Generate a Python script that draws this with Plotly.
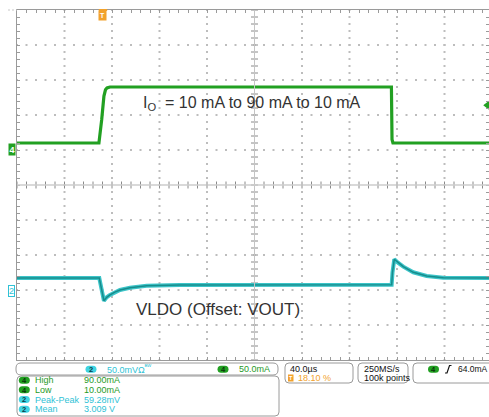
import plotly.graph_objects as go

W, H = 489, 417

# ---- acquisition settings ----
time_per_div = 40.0          # µs/div
trig_pct = 18.10             # trigger position, % of record
ch4_scale = 50.0             # mA/div
ch2_scale = 50.0             # mV/div
trig_level = 64.0            # mA

# ---- channel 4: load current (µs, mA) ----
t4 = [-72.4, -3.4, -1.1, 0.8, 2.1, 3.4, 5.9, 242.9, 243.4, 244.2, 325.1]
i4 = [10.0, 10.0, 43.0, 77.0, 86.0, 88.6, 90.0, 90.0, 15.0, 10.0, 10.0]

# ---- channel 2: LDO output, offset by VOUT (µs, mV) ----
t2 = [-72.4, -3.1, 0.8, 3.1, 5.9, 10.0, 14.3, 22.7, 36.8, 64.8, 243.1,
      243.8, 245.3, 248.4, 252.9, 261.3, 272.6, 286.6, 325.1]
v2 = [17.0, 17.0, -15.38, -10.4, -7.1, -3.0, 0.0, 3.3, 6.1, 7.0, 7.5,
      25.0, 43.9, 39.0, 33.3, 25.3, 20.0, 17.6, 17.0]

mean_v2 = "3.009 V"

GREEN = "#22a022"
GREEN_TXT = "#1f9a1f"
CYAN = "#3cc4c8"
CYAN_DARK = "#178c8c"
CYAN_TXT = "#2fc2d6"
ORANGE = "#f2a22c"
GRID = "#bdbdbd"
FRAME = "#9a9a9a"
FONT = "Liberation Sans, Arial, sans-serif"

# graticule geometry (plot area in pixels)
PL, PT, PB = 17, 10, 360
x_left = -time_per_div * 10 * trig_pct / 100.0
px_per_div = 47.5
x_right = x_left + (W - PL) / px_per_div * time_per_div
y4_top = 200.0
y4_bot = y4_top - 10 * ch4_scale
y2_top = 400.0
y2_bot = y2_top - 10 * ch2_scale
x_center = x_left + 5 * time_per_div
y4_center = (y4_top + y4_bot) / 2


def px(x):
    return x / W


def py(y):
    return 1 - y / H


fig = go.Figure()

# dotted division lines
gx, gy = [], []
minor_x = time_per_div / 5
minor_y = ch4_scale / 5
for k in range(1, 10):
    if k == 5:
        continue
    xv = x_left + k * time_per_div
    for j in range(0, 51):
        gx.append(xv)
        gy.append(y4_bot + j * minor_y)
    yv = y4_bot + k * ch4_scale
    for j in range(0, 51):
        gx.append(x_left + j * minor_x)
        gy.append(yv)
fig.add_trace(go.Scatter(x=gx, y=gy, mode="markers", hoverinfo="skip",
                         marker=dict(symbol="square", size=2, color=GRID,
                                     line=dict(width=0))))

# center cross with minor ticks
fig.add_shape(type="line", xref="x", yref="paper", x0=x_center, x1=x_center,
              y0=py(PB), y1=py(PT), line=dict(color="#c4c4c4", width=1))
fig.add_shape(type="line", xref="paper", yref="y", x0=px(PL), x1=1,
              y0=y4_center, y1=y4_center, line=dict(color="#cccccc", width=1.5))
fig.add_trace(go.Scatter(x=[x_center] * 51,
                         y=[y4_bot + j * minor_y for j in range(51)],
                         mode="markers", hoverinfo="skip",
                         marker=dict(symbol="line-ew", size=5,
                                     line=dict(color="#8a8a8a", width=1))))
fig.add_trace(go.Scatter(x=[x_left + j * minor_x for j in range(51)],
                         y=[y4_center] * 51,
                         mode="markers", hoverinfo="skip",
                         marker=dict(symbol="line-ns", size=5,
                                     line=dict(color="#8a8a8a", width=1))))

# channel 4 trace
fig.add_trace(go.Scatter(x=t4, y=i4, mode="lines", hoverinfo="skip",
                         line=dict(color=GREEN, width=3.2)))
# channel 2 trace (persistence band + core)
fig.add_trace(go.Scatter(x=t2, y=v2, mode="lines", yaxis="y2", hoverinfo="skip",
                         line=dict(color=CYAN, width=4)))
fig.add_trace(go.Scatter(x=t2, y=v2, mode="lines", yaxis="y2", hoverinfo="skip",
                         line=dict(color=CYAN_DARK, width=1.5)))

# trigger level marker at right edge
fig.add_trace(go.Scatter(x=[x_right - 1.5], y=[trig_level], mode="markers",
                         cliponaxis=False, hoverinfo="skip",
                         marker=dict(symbol="triangle-left", size=8, color=GREEN)))

ann = []

# trigger position marker
ann.append(dict(xref="x", yref="paper", x=0, y=py(16), text="<b>T</b>",
                showarrow=False, font=dict(family=FONT, size=7, color="white"),
                bgcolor=ORANGE, borderpad=1, xanchor="center", yanchor="middle"))
fig.add_shape(type="line", xref="x", yref="paper", x0=-3.5, x1=3.5,
              y0=py(PT), y1=py(PT), line=dict(color=ORANGE, width=2))

# channel ground markers
ann.append(dict(xref="paper", yref="y", x=px(11.5), y=0, text="<b>4</b>",
                showarrow=False, font=dict(family=FONT, size=9, color="white"),
                bgcolor=GREEN, borderpad=0.5, xanchor="center", yanchor="middle"))
ann.append(dict(xref="paper", yref="y2", x=px(11.5), y=-2, text="2",
                showarrow=False, font=dict(family=FONT, size=9, color=CYAN_TXT),
                bgcolor="white", bordercolor=CYAN_TXT, borderwidth=1, borderpad=0,
                xanchor="center", yanchor="middle"))

# waveform labels
ann.append(dict(xref="paper", yref="paper", x=px(141), y=py(103),
                text="I<sub>O</sub>  = 10 mA to 90 mA to 10 mA",
                showarrow=False, font=dict(family=FONT, size=16, color="#333333"),
                xanchor="left", yanchor="middle"))
ann.append(dict(xref="paper", yref="paper", x=px(134), y=py(309),
                text="VLDO (Offset: VOUT)",
                showarrow=False, font=dict(family=FONT, size=17, color="#333333"),
                xanchor="left", yanchor="middle"))


def rrect(x0, y0, x1, y1, r, color=FRAME, fill=None):
    p = (f"M {px(x0 + r)},{py(y0)} L {px(x1 - r)},{py(y0)} "
         f"Q {px(x1)},{py(y0)} {px(x1)},{py(y0 + r)} "
         f"L {px(x1)},{py(y1 - r)} Q {px(x1)},{py(y1)} {px(x1 - r)},{py(y1)} "
         f"L {px(x0 + r)},{py(y1)} Q {px(x0)},{py(y1)} {px(x0)},{py(y1 - r)} "
         f"L {px(x0)},{py(y0 + r)} Q {px(x0)},{py(y0)} {px(x0 + r)},{py(y0)} Z")
    fig.add_shape(type="path", xref="paper", yref="paper", path=p,
                  line=dict(color=color, width=1 if fill is None else 0),
                  fillcolor=fill if fill else "rgba(0,0,0,0)", layer="above")


def text(x, y, s, color="#111111", size=9, anchor="left"):
    ann.append(dict(xref="paper", yref="paper", x=px(x), y=py(y), text=s,
                    showarrow=False, font=dict(family=FONT, size=size, color=color),
                    xanchor=anchor, yanchor="middle"))


def badge(cx, cy, label, fill, color):
    rrect(cx - 5.5, cy - 3.5, cx + 5.5, cy + 3.5, 3.5, fill=fill)
    text(cx, cy + 0.3, f"<b>{label}</b>", color=color, size=7.5, anchor="center")


# status bar boxes
rrect(16, 363, 278, 375, 5)
rrect(17, 376, 279, 416, 4)
rrect(285, 363, 353, 383, 4)
rrect(358, 363, 408, 383, 4)
rrect(413, 363, 500, 383, 4)

# vertical scale readouts
badge(91, 369.3, "2", "#3fd4e2", "#0d3a44")
text(105, 369.3, f"{ch2_scale:.1f}mVΩ<sup>ᴮᵂ</sup>", CYAN_TXT)
badge(223, 369.3, "4", GREEN, "#0b300b")
text(237, 369.3, f"{ch4_scale:.1f}mA", GREEN_TXT)

# measurements
meas = [
    ("4", "High", f"{max(i4):.2f}mA", GREEN_TXT, GREEN, "#0b300b"),
    ("4", "Low", f"{min(i4):.2f}mA", GREEN_TXT, GREEN, "#0b300b"),
    ("2", "Peak-Peak", f"{max(v2) - min(v2):.2f}mV", CYAN_TXT, "#3fd4e2", "#0d3a44"),
    ("2", "Mean", mean_v2, CYAN_TXT, "#3fd4e2", "#0d3a44"),
]
meas_y = [380.3, 389.7, 399.5, 409.2]
for (ch, lab, val, tc, bf, bc), yy in zip(meas, meas_y):
    badge(24.3, yy, ch, bf, bc)
    text(33, yy, lab, tc)
    text(82, yy, val, tc)

# horizontal / acquisition readouts
text(288, 369, f"{time_per_div:.1f}µs")
fig.add_shape(type="rect", xref="paper", yref="paper", x0=px(288), x1=px(293.5),
              y0=py(381.5), y1=py(374.5), fillcolor=ORANGE, line=dict(width=0))
text(290.8, 378.2, "<b>T</b>", "white", 5.5, "center")
text(296, 378.2, f"{trig_pct:.2f} %", ORANGE)
text(362, 369, "250MS/s")
text(362, 378.2, "100k points")

# trigger readout
badge(433.5, 369.3, "4", GREEN, "#0b300b")
fig.add_shape(type="path", xref="paper", yref="paper",
              path=f"M {px(445)},{py(373)} L {px(447)},{py(373)} L {px(449.5)},{py(365.5)} L {px(451.5)},{py(365.5)}",
              line=dict(color="#111111", width=1.2))
text(455.5, 369.3, f"{trig_level:.1f}mA", size=8.5)

# short dashed lead-in at top-left of graticule
fig.add_shape(type="line", xref="paper", yref="paper", x0=px(8), x1=px(17),
              y0=py(PT), y1=py(PT), line=dict(color="#c8c8c8", width=1, dash="2px,2px"))

fig.update_layout(
    width=W, height=H, autosize=False,
    margin=dict(l=0, r=0, t=0, b=0),
    paper_bgcolor="white", plot_bgcolor="white",
    showlegend=False, hovermode=False,
    annotations=ann,
    xaxis=dict(domain=[PL / W, 1], range=[x_left, x_right],
               showgrid=False, zeroline=False, showticklabels=False,
               showline=True, linecolor=FRAME, linewidth=1, mirror="ticks",
               ticks="inside", ticklen=3, tickcolor=FRAME,
               tick0=x_left, dtick=minor_x),
    yaxis=dict(domain=[1 - PB / H, 1 - PT / H], range=[y4_bot, y4_top],
               showgrid=False, zeroline=False, showticklabels=False,
               showline=True, linecolor=FRAME, linewidth=1, mirror="ticks",
               ticks="inside", ticklen=3, tickcolor=FRAME,
               tick0=y4_bot, dtick=minor_y),
    yaxis2=dict(domain=[1 - PB / H, 1 - PT / H], range=[y2_bot, y2_top],
                overlaying="y", visible=False),
)

fig.write_html("out.html")
